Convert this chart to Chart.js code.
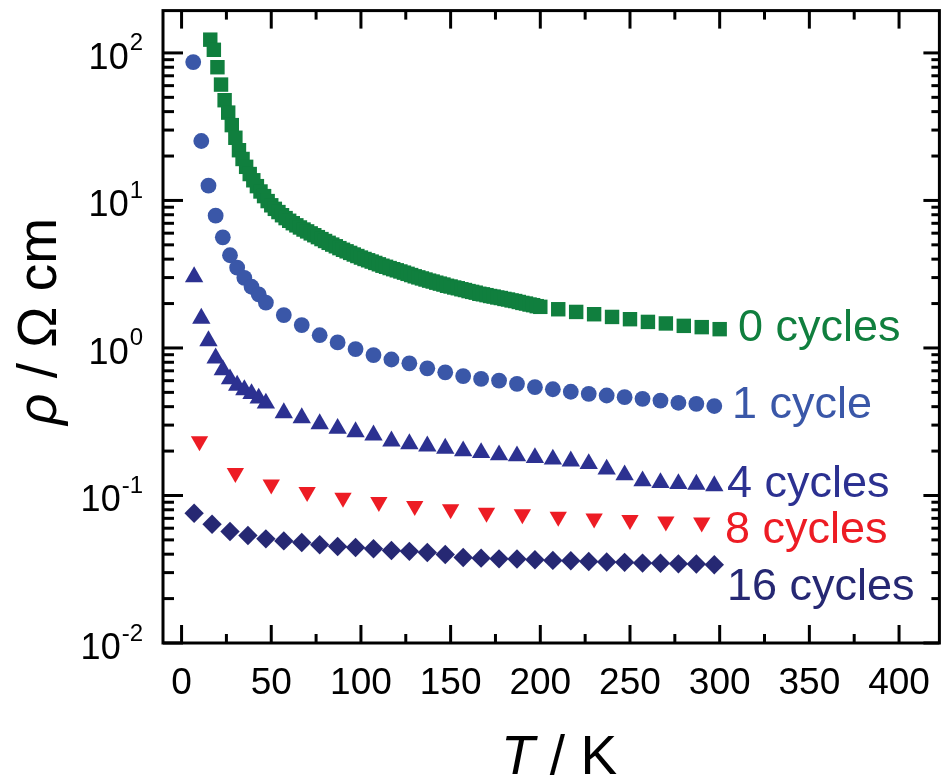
<!DOCTYPE html>
<html>
<head>
<meta charset="utf-8">
<script src="https://cdn.jsdelivr.net/npm/chart.js@4.4.1/dist/chart.umd.min.js"></script>
<style>
  html, body { margin: 0; padding: 0; background: #fff; }
  canvas { display: block; }
</style>
</head>
<body>
<canvas id="c" width="950" height="779"></canvas>
<script>
// Resistivity vs temperature after successive cycles

const temp0 = [16,18,20,22,24,26,28,30,32,34,36,38,40,42,44,46,48,50,52,54,56,58,60,62,64,66,68,70,72,74,76,78,80,82,84,86,88,90,92,94,96,98,100,102,104,106,108,110,112,114,116,118,120,122,124,126,128,130,132,134,136,138,140,142,144,146,148,150,152,154,156,158,160,162,164,166,168,170,172,174,176,178,180,182,184,186,188,190,192,194,196,198,200,210,220,230,240,250,260,270,280,290,300];
const rho0 = [123,105,80,61,47.8,39.4,32.4,26.6,21.9,19.1,16.9,15.1,13.7,12.5,11.5,10.7,9.9,9.27,8.77,8.34,7.94,7.59,7.28,7.01,6.78,6.56,6.35,6.17,5.98,5.81,5.64,5.47,5.31,5.16,5.02,4.89,4.75,4.63,4.52,4.41,4.30,4.20,4.10,4.01,3.93,3.85,3.77,3.69,3.61,3.55,3.48,3.42,3.36,3.30,3.24,3.18,3.12,3.06,3.01,2.96,2.91,2.86,2.82,2.77,2.73,2.69,2.64,2.61,2.57,2.54,2.50,2.47,2.43,2.40,2.37,2.33,2.31,2.28,2.25,2.23,2.20,2.18,2.15,2.13,2.10,2.08,2.05,2.02,2.00,1.97,1.95,1.92,1.90,1.83,1.755,1.693,1.623,1.567,1.502,1.466,1.412,1.384,1.341];

const temp1 = [6.5,11,15,19,23,27,31,35,39,43,47,57,67,77,87,97,107,117,127,137,147,157,167,177,187,197,207,217,227,237,247,257,267,277,287,297];
const rho1 = [86.7,25.3,12.6,7.89,5.62,4.25,3.50,2.99,2.60,2.31,2.03,1.67,1.43,1.22,1.09,0.983,0.895,0.835,0.787,0.728,0.684,0.645,0.617,0.601,0.571,0.542,0.525,0.505,0.489,0.476,0.464,0.452,0.440,0.425,0.418,0.404];

const temp4 = [7,11,15,19,23,27,31,35,39,43,47,57,67,77,87,97,107,117,127,137,147,157,167,177,187,197,207,217,227,237,247,257,267,277,287,297];
const rho4 = [3.03,1.586,1.116,0.852,0.710,0.616,0.558,0.520,0.489,0.456,0.4215,0.3625,0.3354,0.3056,0.2844,0.2699,0.2564,0.2335,0.2239,0.2162,0.2086,0.200,0.1948,0.188,0.185,0.180,0.176,0.171,0.164,0.1505,0.1377,0.1254,0.122,0.120,0.119,0.116];

const temp8 = [10,30,50,70,90,110,130,150,170,190,210,230,250,270,290];
const rho8 = [0.2328,0.1423,0.1189,0.1054,0.0965,0.0903,0.0848,0.0806,0.0764,0.0746,0.0718,0.0697,0.0682,0.0665,0.0655];

const temp16 = [7,17,27,37,47,57,67,77,87,97,107,117,127,137,147,157,167,177,187,197,207,217,227,237,247,257,267,277,287,297];
const rho16 = [0.0757,0.0638,0.0570,0.0535,0.0508,0.0492,0.0480,0.0463,0.0451,0.0444,0.0435,0.0424,0.0418,0.0411,0.0398,0.0380,0.0376,0.0372,0.0371,0.0367,0.0363,0.0361,0.0357,0.0354,0.0352,0.0348,0.0347,0.0344,0.0343,0.0339];

const seriesNames = ['0 cycles', '1 cycle', '4 cycles', '8 cycles', '16 cycles'];
const xTickValues = [0, 50, 100, 150, 200, 250, 300, 350, 400];
const yTickExponents = [2, 1, 0, -1, -2];

const COLORS = ['#107f3e', '#3a57a8', '#2c3191', '#ed1c24', '#262873'];
const FONT = "'Liberation Sans', Arial, Helvetica, sans-serif";

function pts(t, r) { return t.map((v, i) => ({ x: v, y: r[i] })); }

const datasets = [
  { label: seriesNames[0], data: pts(temp0, rho0), pointStyle: 'rect', pointRadius: 10.2, pointRotation: 0 },
  { label: seriesNames[1], data: pts(temp1, rho1), pointStyle: 'circle', pointRadius: 7.9 },
  { label: seriesNames[2], data: pts(temp4, rho4), pointStyle: 'triangle', pointRadius: 10.6 },
  { label: seriesNames[3], data: pts(temp8, rho8), pointStyle: 'triangle', pointRadius: 10, pointRotation: 180 },
  { label: seriesNames[4], data: pts(temp16, rho16), pointStyle: 'rectRot', pointRadius: 9.7 }
].map((d, i) => Object.assign(d, {
  showLine: false,
  backgroundColor: COLORS[i],
  borderColor: COLORS[i],
  borderWidth: 0,
  pointBackgroundColor: COLORS[i],
  pointBorderWidth: 0,
  pointHoverRadius: d.pointRadius,
  clip: false
}));

// Series captions placed at the right-hand end of each curve
const captionLayout = [
  { x: 738, y: 341 },
  { x: 732, y: 418 },
  { x: 727, y: 497 },
  { x: 725, y: 543 },
  { x: 727, y: 600 }
];

const axesPlugin = {
  id: 'boxAxes',
  afterDatasetsDraw(chart) {
    const { ctx, chartArea: a, scales: { x, y } } = chart;
    ctx.save();
    ctx.strokeStyle = '#000';
    ctx.fillStyle = '#000';
    ctx.lineWidth = 3;
    ctx.lineCap = 'butt';

    const line = (x1, y1, x2, y2) => { ctx.beginPath(); ctx.moveTo(x1, y1); ctx.lineTo(x2, y2); ctx.stroke(); };

    // x ticks (major every 50, minor halfway), pointing inwards on bottom and top
    for (let v = 0; v <= 425; v += 25) {
      const px = x.getPixelForValue(v);
      if (px > a.right - 2) continue;
      const major = v % 50 === 0;
      line(px, a.bottom, px, a.bottom - (major ? 18 : 9));
      line(px, a.top, px, a.top + (major ? 18 : 9));
    }

    // y ticks: decades and 2..9 minors, inwards on left and right
    for (let e = -2; e <= 2; e++) {
      for (let m = 1; m <= 9; m++) {
        const v = m * Math.pow(10, e);
        if (v > y.max) continue;
        const py = y.getPixelForValue(v);
        const major = m === 1;
        line(a.left, py, a.left + (major ? 20 : 11), py);
        line(a.right, py, a.right - (major ? 16 : 8), py);
      }
    }

    ctx.strokeRect(a.left, a.top, a.right - a.left, a.bottom - a.top);

    // x tick labels
    ctx.font = `37px ${FONT}`;
    ctx.textAlign = 'center';
    ctx.textBaseline = 'alphabetic';
    xTickValues.forEach(v => ctx.fillText(String(v), x.getPixelForValue(v), 694));

    // y tick labels with superscript exponents
    yTickExponents.forEach(e => {
      const py = y.getPixelForValue(Math.pow(10, e));
      const exp = String(e);
      ctx.font = `24px ${FONT}`;
      const ew = ctx.measureText(exp).width;
      const right = 143;
      ctx.textAlign = 'left';
      ctx.fillText(exp, right - ew, py - 2.5);
      ctx.font = `36px ${FONT}`;
      ctx.textAlign = 'right';
      ctx.fillText('10', right - ew - 1, py + 16);
    });

    // x axis title: italic T / K
    ctx.textAlign = 'left';
    const parts = [['T', 'italic '], [' / K', '']];
    let total = 0;
    parts.forEach(p => { ctx.font = `${p[1]}55px ${FONT}`; total += ctx.measureText(p[0]).width; });
    let cx = 559 - total / 2;
    parts.forEach(p => { ctx.font = `${p[1]}55px ${FONT}`; ctx.fillText(p[0], cx, 774); cx += ctx.measureText(p[0]).width; });

    // y axis title: italic rho / Omega cm, rotated
    ctx.save();
    ctx.translate(56, 321.5);
    ctx.rotate(-Math.PI / 2);
    const yparts = [['\u03C1', 'italic '], [' / \u03A9 cm', '']];
    total = 0;
    yparts.forEach(p => { ctx.font = `${p[1]}55px ${FONT}`; total += ctx.measureText(p[0]).width; });
    cx = -total / 2;
    yparts.forEach(p => { ctx.font = `${p[1]}55px ${FONT}`; ctx.fillText(p[0], cx, 0); cx += ctx.measureText(p[0]).width; });
    ctx.restore();

    // captions
    ctx.font = `45px ${FONT}`;
    ctx.textAlign = 'left';
    seriesNames.forEach((name, i) => {
      ctx.fillStyle = COLORS[i];
      ctx.fillText(name, captionLayout[i].x, captionLayout[i].y);
    });

    ctx.restore();
  }
};

new Chart(document.getElementById('c'), {
  type: 'scatter',
  data: { datasets },
  options: {
    responsive: false,
    devicePixelRatio: 1,
    animation: false,
    layout: { padding: { left: 163, top: 10, right: 5, bottom: 136 } },
    plugins: { legend: { display: false }, tooltip: { enabled: false } },
    scales: {
      x: { type: 'linear', display: false, min: -10.35, max: 422.5 },
      y: { type: 'logarithmic', display: false, min: 0.01, max: 193.6 }
    }
  },
  plugins: [axesPlugin]
});
</script>
</body>
</html>
